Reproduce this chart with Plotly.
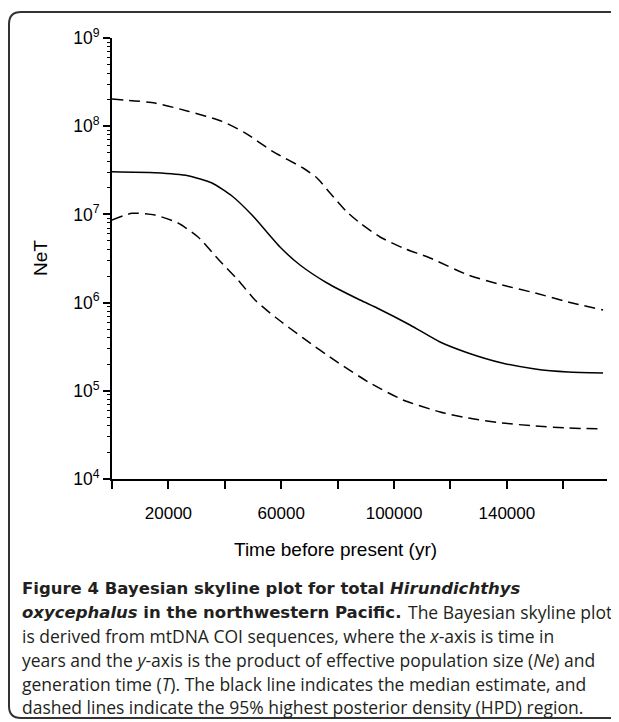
import plotly.graph_objects as go

# Time before present (yr)
median_x = [0, 15250, 26950, 35460, 42550, 49640, 59570, 66660, 76240, 87940, 93970,
            105670, 116310, 126240, 138300, 150000, 161700, 174100]
median_log = [7.484, 7.473, 7.439, 7.356, 7.209, 6.993, 6.630, 6.426, 6.222, 6.029, 5.939,
              5.746, 5.553, 5.429, 5.315, 5.247, 5.213, 5.202]

upper_x = [0, 15250, 26950, 39010, 47160, 57090, 67730, 72690, 77300, 83330, 87940, 95030,
           103190, 112760, 126240, 138300, 150000, 161700, 174100]
upper_log = [8.308, 8.262, 8.170, 8.055, 7.925, 7.711, 7.526, 7.413, 7.243, 7.027, 6.902, 6.744,
             6.619, 6.506, 6.313, 6.200, 6.109, 6.007, 5.916]

lower_x = [0, 7090, 15250, 23400, 30500, 37590, 44680, 50710, 57800, 67730, 79790, 91490,
           103190, 116310, 126240, 138300, 150000, 161700, 174100]
lower_log = [6.937, 7.012, 6.993, 6.902, 6.744, 6.494, 6.256, 6.029, 5.837, 5.599, 5.327, 5.088,
             4.896, 4.760, 4.692, 4.635, 4.601, 4.578, 4.567]

x_tickvals = [0, 20000, 40000, 60000, 80000, 100000, 120000, 140000, 160000]
x_ticktext = ["", "20000", "", "60000", "", "100000", "", "140000", ""]
y_tickvals = [1e4, 1e5, 1e6, 1e7, 1e8, 1e9]
y_ticktext = ["10<sup>4</sup>", "10<sup>5</sup>", "10<sup>6</sup>", "10<sup>7</sup>",
              "10<sup>8</sup>", "10<sup>9</sup>"]

x_title = "Time before present (yr)"
y_title = "NeT"
caption_bold_1 = "Figure 4 Bayesian skyline plot for total <i>Hirundichthys</i>"
caption_bold_2 = "<i>oxycephalus</i> in the northwestern Pacific."
caption_rest_2 = "The Bayesian skyline plot"
caption_lines = [
    "is derived from mtDNA COI sequences, where the <i>x</i>-axis is time in",
    "years and the <i>y</i>-axis is the product of effective population size (<i>Ne</i>) and",
    "generation time (<i>T</i>). The black line indicates the median estimate, and",
    "dashed lines indicate the 95% highest posterior density (HPD) region.",
]

# page body has an 8px margin: figure is drawn at (8, 8)
OFF = 8
W, H = 619 - OFF, 722 - OFF
L, T = 112 - OFF, 38 - OFF
pw, ph = 495, 441
R, B = W - L - pw, H - T - ph


def px(x):
    return (x - 112) / pw


def py(y):
    return (479 - y) / ph


fig = go.Figure()
line_style = dict(color="black", width=1.5, shape="spline", smoothing=0.6)
fig.add_trace(go.Scatter(x=upper_x, y=[10 ** v for v in upper_log], mode="lines",
                         line=dict(**line_style, dash="11px,6px")))
fig.add_trace(go.Scatter(x=median_x, y=[10 ** v for v in median_log], mode="lines",
                         line=dict(**line_style)))
fig.add_trace(go.Scatter(x=lower_x, y=[10 ** v for v in lower_log], mode="lines",
                         line=dict(**line_style, dash="11px,6px")))

fig.update_layout(
    width=W, height=H, margin=dict(l=L, r=R, t=T, b=B),
    paper_bgcolor="white", plot_bgcolor="white", showlegend=False,
    font=dict(family="Liberation Sans, Arial", color="black"),
)
fig.update_xaxes(range=[0, 175500], tickmode="array", tickvals=x_tickvals, ticktext=x_ticktext,
                 ticks="outside", ticklen=8, tickwidth=2, tickcolor="black",
                 ticklabelstandoff=10,
                 showline=True, linecolor="black", linewidth=2, showgrid=False, zeroline=False,
                 tickfont=dict(size=17))
fig.update_yaxes(type="log", range=[4, 9], tickmode="array", tickvals=y_tickvals,
                 ticktext=y_ticktext, ticks="outside", ticklen=7, tickwidth=2, tickcolor="black",
                 showline=True, linecolor="black", linewidth=2, showgrid=False, zeroline=False,
                 tickfont=dict(size=17.5),
                 minor=dict(ticks="outside", ticklen=3, tickwidth=1, tickcolor="black",
                            dtick="D1", showgrid=False))

cap_color = "#231f20"
bold_font = dict(size=16.5, family="DejaVu Sans", color=cap_color, weight="bold")
reg_font = dict(size=17.5, family="Open Sans", color=cap_color)


def ann(text, x, y, font, **kw):
    d = dict(text=text, x=px(x), y=py(y), xref="paper", yref="paper", showarrow=False,
             xanchor="left", yanchor="middle", font=font)
    d.update(kw)
    return d


annotations = [
    dict(text=x_title, x=px(335), y=py(549), xref="paper", yref="paper",
         showarrow=False, font=dict(size=19), xanchor="center", yanchor="middle"),
    dict(text=y_title, x=px(40), y=py(258), xref="paper", yref="paper", textangle=-90,
         showarrow=False, font=dict(size=19), xanchor="center", yanchor="middle"),
    ann(caption_bold_1, 20, 588, bold_font),
    ann(caption_bold_2, 20, 612, bold_font),
    ann(caption_rest_2, 406, 612, reg_font),
]
for t, yy in zip(caption_lines, [636, 660, 684, 707]):
    annotations.append(ann(t, 20, yy, reg_font))
fig.update_layout(annotations=annotations)

# rounded frame
r = 12
xl, yt, yb, xr = px(9), py(12), py(718), px(630)
rx, ry = r / pw, r / ph
path = (f"M {xr},{yt} L {xl + rx},{yt} Q {xl},{yt} {xl},{yt - ry} "
        f"L {xl},{yb + ry} Q {xl},{yb} {xl + rx},{yb} L {xr},{yb}")
fig.add_shape(type="path", path=path, xref="paper", yref="paper",
              line=dict(color="#333333", width=2))

fig.write_html("out.html")
